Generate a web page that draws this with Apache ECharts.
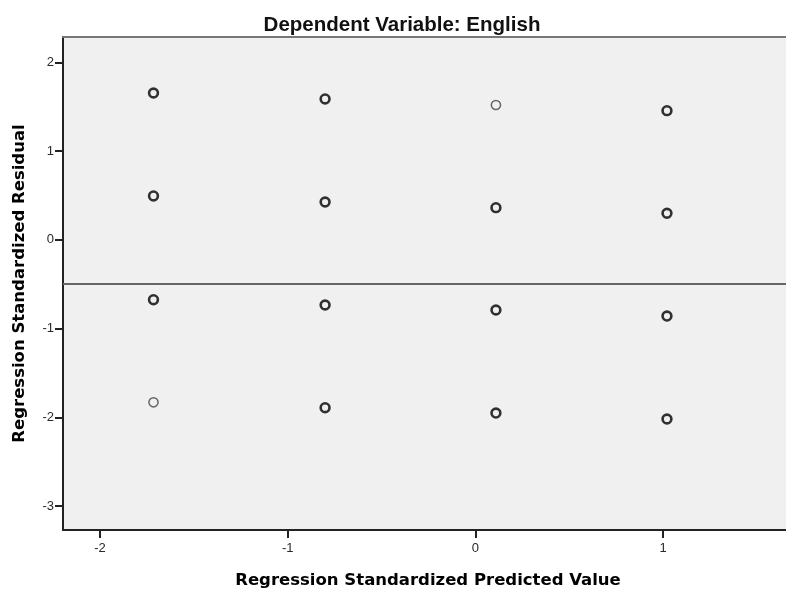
<!DOCTYPE html>
<html>
<head>
<meta charset="utf-8">
<script src="https://cdn.jsdelivr.net/npm/echarts@6/dist/echarts.min.js"></script>
<style>
  html, body { margin: 0; padding: 0; background: #ffffff; }
  #chart { width: 786px; height: 594px; }
</style>
</head>
<body>
<div id="chart"></div>
<script>
// Standardized predicted values (x) and standardized residuals (y), one entry per plotted point
const predicted = [
  -1.715, -1.715, -1.715, -1.715,
  -0.801, -0.801, -0.801, -0.801,
   0.109,  0.109,  0.109,  0.109,
   1.020,  1.020,  1.020,  1.020
];
const residual = [
   1.654,  0.494, -0.675, -1.831,
   1.587,  0.426, -0.735, -1.892,
   1.519,  0.362, -0.791, -1.952,
   1.455,  0.299, -0.859, -2.019
];
// Number of cases sharing each point (overlapping markers draw darker)
const cases = [
  2, 2, 2, 1,
  2, 2, 2, 2,
  1, 2, 2, 2,
  2, 2, 2, 2
];
const xTicks = [-2, -1, 0, 1];
const yTicks = [-3, -2, -1, 0, 1, 2];
const referenceLine = -0.5;

const titleText = 'Dependent Variable: English';
const xName = 'Regression Standardized Predicted Value';
const yName = 'Regression Standardized Residual';

const points = predicted.map((x, i) => ({
  value: [x, residual[i]],
  itemStyle: cases[i] > 1
    ? { color: 'rgba(0,0,0,0)', borderColor: '#000000', borderWidth: 2.6 }
    : { color: 'rgba(0,0,0,0)', borderColor: '#444444', borderWidth: 1.5 },
  symbolSize: cases[i] > 1 ? 8.8 : 9.2
}));

const chart = echarts.init(document.getElementById('chart'), null, { renderer: 'canvas' });
chart.setOption({
  animation: false,
  backgroundColor: '#ffffff',
  title: {
    text: titleText,
    left: 397,
    textAlign: 'center',
    top: 10,
    textStyle: { fontFamily: 'Liberation Sans', fontSize: 20.5, fontWeight: 'bold', color: '#111111' }
  },
  grid: {
    left: 63, right: 0, top: 37, bottom: 64,
    show: true, backgroundColor: '#f0f0f0', borderWidth: 0
  },
  xAxis: [{
    type: 'value',
    min: -2.197, max: 1.654,
    name: xName,
    nameLocation: 'middle',
    nameGap: 42,
    nameTextStyle: { fontFamily: 'DejaVu Sans', fontWeight: 'bold', fontSize: 16.5, color: '#000000', padding: [0, 0, 0, 7] },
    splitLine: { show: false },
    axisLine: { show: true, onZero: false, lineStyle: { color: '#222222', width: 2 } },
    axisTick: { show: true, length: 8, customValues: xTicks, lineStyle: { color: '#222222', width: 2 } },
    axisLabel: { customValues: xTicks, margin: 12, fontFamily: 'Liberation Sans', fontSize: 13, color: '#2a2a2a' }
  }, {
    type: 'value',
    position: 'top',
    min: -2.197, max: 1.654,
    splitLine: { show: false },
    axisLine: { show: true, onZero: false, lineStyle: { color: '#777777', width: 2 } },
    axisTick: { show: false },
    axisLabel: { show: false }
  }],
  yAxis: {
    type: 'value',
    min: -3.27, max: 2.285,
    name: yName,
    nameLocation: 'middle',
    nameGap: 35,
    nameRotate: 90,
    nameTextStyle: { fontFamily: 'DejaVu Sans', fontWeight: 'bold', fontSize: 16.5, color: '#000000' },
    splitLine: { show: false },
    axisLine: { show: true, onZero: false, lineStyle: { color: '#222222', width: 2 } },
    axisTick: { show: true, length: 8, customValues: yTicks, lineStyle: { color: '#222222', width: 2 } },
    axisLabel: { customValues: yTicks, margin: 9, fontFamily: 'Liberation Sans', fontSize: 13, color: '#2a2a2a' }
  },
  series: [{
    type: 'scatter',
    xAxisIndex: 0,
    symbol: 'circle',
    data: points,
    markLine: {
      silent: true,
      symbol: 'none',
      label: { show: false },
      lineStyle: { color: '#666666', width: 2, type: 'solid' },
      data: [{ yAxis: referenceLine }]
    }
  }]
});
</script>
</body>
</html>
